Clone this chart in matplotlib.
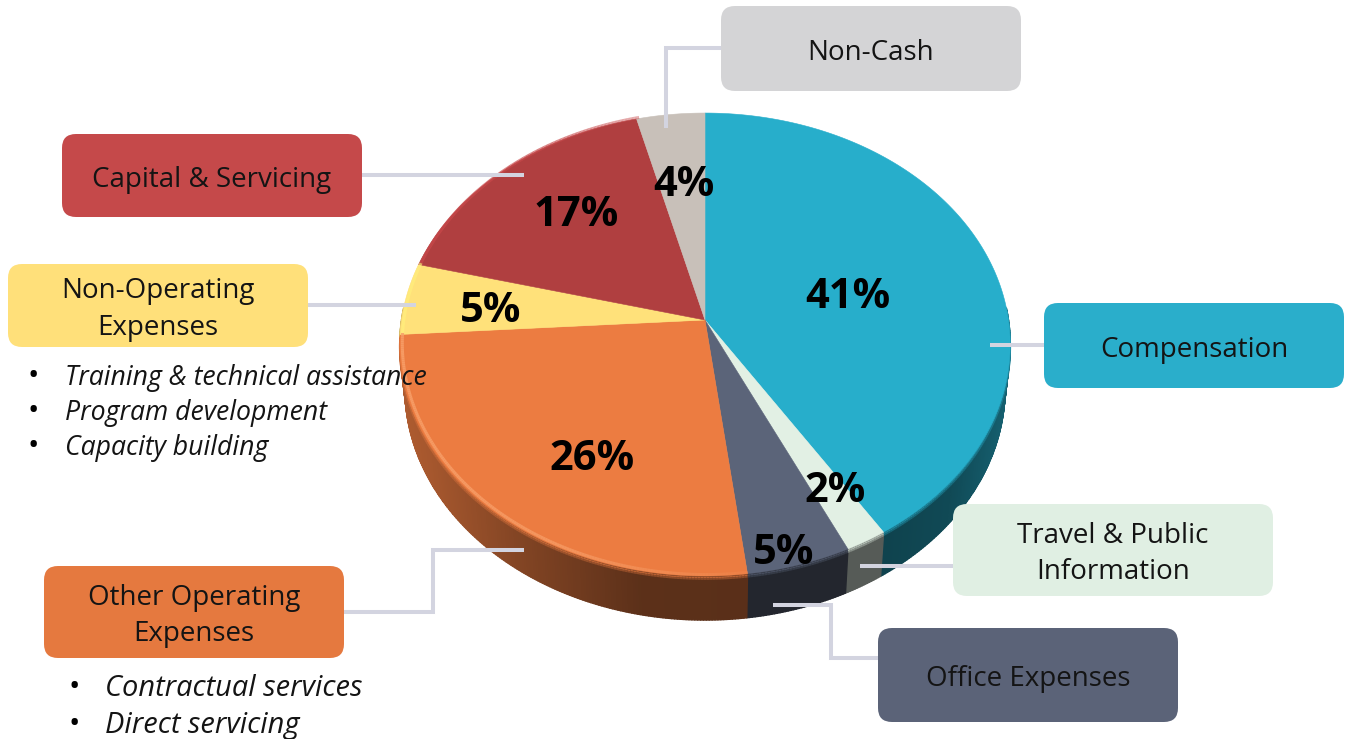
import numpy as np
import matplotlib
matplotlib.use("Agg")
import matplotlib.pyplot as plt
from matplotlib.collections import LineCollection, PolyCollection
from matplotlib.colors import to_rgb
from matplotlib.patches import FancyBboxPatch, Polygon

categories = ["Compensation", "Travel & Public\nInformation", "Office Expenses",
              "Other Operating\nExpenses", "Non-Operating\nExpenses",
              "Capital & Servicing", "Non-Cash"]
values = [41, 2, 5, 26, 5, 17, 4]
slice_colors = ["#27aecb", "#e2f0e4", "#5b6479", "#ec7c41", "#ffe17a", "#b03f40", "#c8c0b9"]
box_colors = ["#2aaecb", "#e0efe3", "#5b6378", "#e5793f", "#ffe07a", "#c5494a", "#d4d4d6"]
rim_colors = [None, None, None, "#f8a06a", "#fff27e", "#c8484a", None]
non_operating_items = ["Training & technical assistance", "Program development", "Capacity building"]
other_operating_items = ["Contractual services", "Direct servicing"]

# box x0, x1, y0, y1 in pixels
box_pos = [(1044, 1344, 303, 388), (953, 1273, 504, 596), (878, 1178, 628, 722),
           (44, 344, 566, 658), (8, 308, 264, 347), (62, 362, 134, 217), (721, 1021, 6, 91)]
pct_pos = [(848, 294), (835, 488), (784, 551), (592, 457), (491, 309), (576, 212), (684, 182)]
connectors = [[(1044, 345), (990, 345)],
              [(953, 566), (860, 566)],
              [(878, 658), (831, 658), (831, 605), (773, 605)],
              [(344, 612), (433, 612), (433, 550), (524, 550)],
              [(308, 305), (416, 305)],
              [(362, 175), (524, 175)],
              [(721, 48), (666, 48), (666, 128)]]

CX, CY = 705, 320
RX, RY, K = 303.5, 228.9, 0.106
DEPTH = 44
FONT = "Open Sans"
INK = "#141414"


def project(theta_deg):
  """Tilted disc: angle on the pie to pixel position on the rim."""
  t = np.radians(theta_deg)
  w = 1 + K * np.sin(t)
  return CX + RX * np.cos(t) / w, CY - RY * np.sin(t) / w


def wall_shade(x):
  """How dark the side wall gets, by pixel x."""
  return np.interp(x, [400, 430, 520, 640, 750, 880, 950, 1010],
                   [0.74, 0.70, 0.55, 0.39, 0.38, 0.38, 0.42, 0.55])


fig = plt.figure(figsize=(13.48, 7.39), dpi=100)
ax = fig.add_axes([0, 0, 1, 1])

wedges, _ = ax.pie(values, startangle=90, counterclock=False)
angles = [(w.theta1, w.theta2) for w in wedges]
for w in wedges:
  w.remove()
ax.set_aspect("auto")
ax.set_xlim(0, 1348)
ax.set_ylim(739, 0)
ax.axis("off")

# side wall, thin strips so the shading can change along it
for (t1, t2), color in zip(angles, slice_colors):
  base = np.array(to_rgb(color))
  lo, hi = max(t1, -183), min(t2, 3)
  if t1 > 180:
    lo, hi = max(t1, 177) - 360, min(t2, 183) - 360
  if lo >= hi and t2 > 170:
    lo, hi = max(t1, 170), min(t2, 190)
  if lo >= hi:
    continue
  th = np.linspace(lo, hi, int((hi - lo) * 2) + 2)
  x, y = project(th)
  xb = CX + (x - CX) * 0.983
  yb = y + DEPTH
  quads, cols = [], []
  for i in range(len(th) - 1):
    quads.append([(x[i], y[i]), (x[i + 1], y[i + 1]), (xb[i + 1], yb[i + 1]), (xb[i], yb[i])])
    cols.append(base * wall_shade(x[i]))
  ax.add_collection(PolyCollection(quads, facecolors=cols, edgecolors=cols, linewidths=1.0, zorder=1))
  # soft step from face to wall
  for off, mix in [(1.5, 0.65), (3, 0.35)]:
    segs = [[(x[i], y[i] + off), (x[i + 1], y[i + 1] + off)] for i in range(len(th) - 1)]
    band = [base * (mix + (1 - mix) * wall_shade(x[i])) for i in range(len(th) - 1)]
    ax.add_collection(LineCollection(segs, colors=band, linewidths=1.2, zorder=1.5))

# top face
for (t1, t2), color in zip(angles, slice_colors):
  th = np.linspace(t1, t2, 200)
  x, y = project(th)
  pts = np.column_stack([np.r_[CX, x], np.r_[CY, y]])
  ax.add_patch(Polygon(pts, closed=True, facecolor=color, edgecolor=color, linewidth=0.4, zorder=2))

# light rim on the left side of the face, fading towards the front
for (t1, t2), rim in zip(angles, rim_colors):
  if rim is None:
    continue
  th = np.linspace(t1, t2, 200)
  x, y = project(th)
  x = x + 2.5 * (x < CX)
  segs = [[(x[i], y[i] - 1.5), (x[i + 1], y[i + 1] - 1.5)] for i in range(len(th) - 1)]
  fade = np.interp(x[:-1], [400, 560, 740], [0.85, 0.7, 0.15])
  rgba = [(*to_rgb(rim), a) for a in fade]
  ax.add_collection(LineCollection(segs, colors=rgba, linewidths=2.2, zorder=3))

for path in connectors:
  ax.plot([p[0] for p in path], [p[1] for p in path], color="#d3d4e0", lw=2.9,
          solid_joinstyle="miter", solid_capstyle="butt", zorder=4)

for name, (x0, x1, y0, y1), color in zip(categories, box_pos, box_colors):
  ax.add_patch(FancyBboxPatch((x0 + 14, y0 + 14), x1 - x0 - 28, y1 - y0 - 28,
                              boxstyle="round,pad=14,rounding_size=14",
                              facecolor=color, edgecolor="none", zorder=5))
  ax.text((x0 + x1) / 2, (y0 + y1) / 2 + 4, name, ha="center", va="center", fontsize=20,
          family=FONT, color=INK, linespacing=1.42, zorder=6)

for v, (x, y) in zip(values, pct_pos):
  ax.text(x, y + 3, f"{v}%", ha="center", va="center", fontsize=30, family=FONT,
          fontweight="bold", color="black", zorder=7)

for item, y in zip(non_operating_items, [376, 411, 446]):
  ax.text(33, y + 1, "•", ha="center", va="center", fontsize=22, family=FONT, zorder=7)
  ax.text(65, y + 2, item, ha="left", va="center", fontsize=19.2, family=FONT, style="italic",
          color=INK, zorder=7)
for item, y in zip(other_operating_items, [687, 724]):
  ax.text(74, y + 1, "•", ha="center", va="center", fontsize=22, family=FONT, zorder=7)
  ax.text(105, y + 2, item, ha="left", va="center", fontsize=20.9, family=FONT, style="italic",
          color=INK, zorder=7)

fig.savefig("out.png", dpi=100)
